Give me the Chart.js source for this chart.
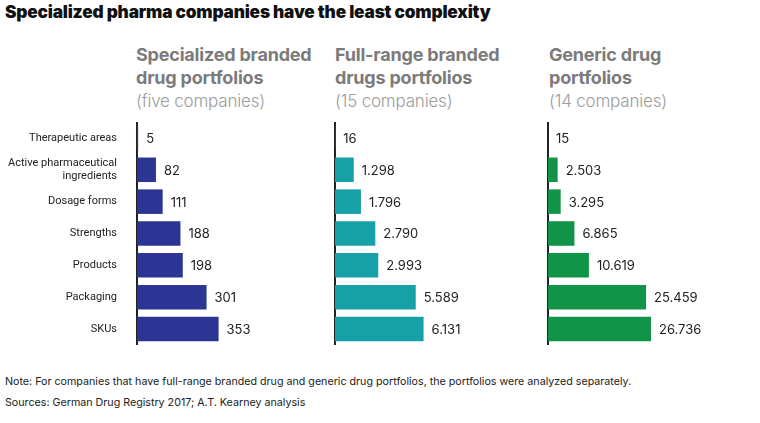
<!DOCTYPE html>
<html>
<head>
<meta charset="utf-8">
<script src="https://cdn.jsdelivr.net/npm/chart.js@4"></script>
<style>
  body { margin: 0; background: #fff; font-family: Inter, "Open Sans", sans-serif; }
  #wrap { position: relative; width: 760px; height: 423px; overflow: hidden; }
  .title { position: absolute; left: 5px; top: 1px; font-size: 17.3px; font-weight: 900; color: #111; letter-spacing: -0.2px; }
  .head { position: absolute; top: 43px; font-size: 18px; line-height: 23px; font-weight: 700; color: #7b7b7b; letter-spacing: -0.2px; }
  .head span { font-size: 17px; font-weight: 300; color: #9c9c9c; }
  .box { position: absolute; top: 122px; height: 223px; }
  .note { position: absolute; left: 5px; font-size: 10.7px; color: #222; }
</style>
</head>
<body>
<div id="wrap">
  <div class="title">Specialized pharma companies have the least complexity</div>
  <div class="head" style="left:136px">Specialized branded<br>drug portfolios<br><span>(five companies)</span></div>
  <div class="head" style="left:335px">Full-range branded<br>drugs portfolios<br><span>(15 companies)</span></div>
  <div class="head" style="left:549px">Generic drug<br>portfolios<br><span>(14 companies)</span></div>
  <div class="box" style="left:0;width:330px"><canvas id="c1"></canvas></div>
  <div class="box" style="left:330px;width:210px"><canvas id="c2"></canvas></div>
  <div class="box" style="left:540px;width:220px"><canvas id="c3"></canvas></div>
  <div class="note" style="top:375px">Note: For companies that have full-range branded drug and generic drug portfolios, the portfolios were analyzed separately.</div>
  <div class="note" style="top:396px">Sources: German Drug Registry 2017; A.T. Kearney analysis</div>
</div>
<script>
var categories = ["Therapeutic areas", ["Active pharmaceutical", "ingredients"], "Dosage forms", "Strengths", "Products", "Packaging", "SKUs"];
var specialized = [5, 82, 111, 188, 198, 301, 353];
var fullRange = [16, 1298, 1796, 2790, 2993, 5589, 6131];
var generic = [15, 2503, 3295, 6865, 10619, 25459, 26736];
var axisMax = [835, 14190, 55030];

var valueLabels = {
    id: "valueLabels",
    afterDatasetsDraw: function(chart) {
        var ctx = chart.ctx;
        var meta = chart.getDatasetMeta(0);
        var data = chart.data.datasets[0].data;
        ctx.save();
        ctx.font = "13px Inter, sans-serif";
        ctx.fillStyle = "#222";
        ctx.textBaseline = "middle";
        meta.data.forEach(function(bar, i) {
            ctx.fillText(data[i].toLocaleString("de-DE"), bar.x + 8, bar.y + 1);
        });
        ctx.restore();
    }
};

function renderChart(chartId, data, color, max, gutter, showLabels) {
    var ctx = document.getElementById(chartId).getContext("2d");
    new Chart(ctx, {
        type: "bar",
        data: {
            labels: categories,
            datasets: [{
                data: data,
                backgroundColor: color,
                borderWidth: 0,
                barPercentage: 0.77,
                categoryPercentage: 1
            }]
        },
        options: {
            indexAxis: "y",
            responsive: true,
            maintainAspectRatio: false,
            animation: false,
            layout: { padding: 0 },
            scales: {
                x: { display: false, min: 0, max: max },
                y: {
                    grid: { display: false, drawTicks: false },
                    border: { display: true, color: "#222", width: 2 },
                    ticks: {
                        display: showLabels,
                        padding: 20,
                        font: { size: 11, family: "Roboto, sans-serif" },
                        color: "#222"
                    },
                    afterFit: function(scale) {
                        // keep the axis where the picture has it, no extra top/bottom gap from tick padding
                        scale.width = gutter;
                        scale.paddingTop = 0;
                        scale.paddingBottom = 0;
                    }
                }
            },
            plugins: {
                legend: { display: false },
                tooltip: { enabled: false }
            }
        },
        plugins: [valueLabels]
    });
}

renderChart("c1", specialized, "#2c3594", axisMax[0], 137, true);
renderChart("c2", fullRange, "#17a0a5", axisMax[1], 5, false);
renderChart("c3", generic, "#119447", axisMax[2], 8, false);
</script>
</body>
</html>
